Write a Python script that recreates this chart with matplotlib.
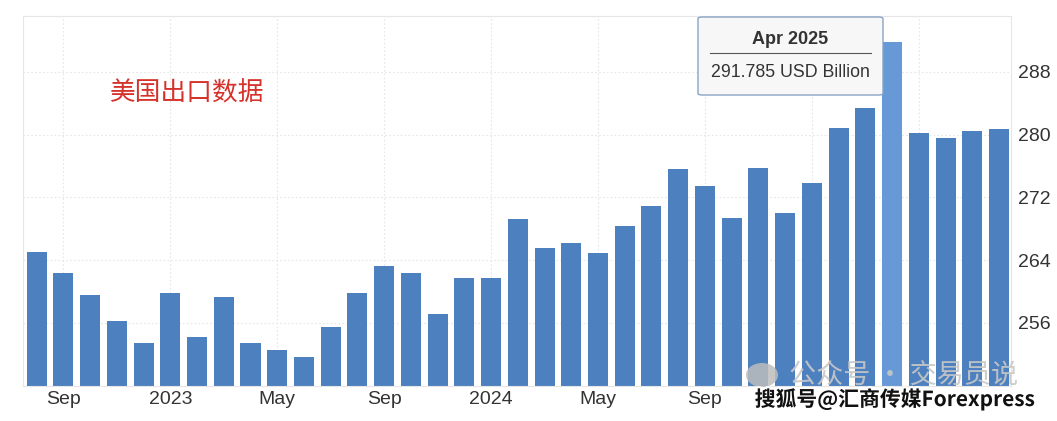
import matplotlib.pyplot as plt
from matplotlib.patches import FancyBboxPatch, Ellipse
import matplotlib.patheffects as pe

plt.rcParams['font.family'] = ['Liberation Sans', 'Noto Sans CJK SC', 'DejaVu Sans']

# 美国出口 (USD Billion), Aug 2022 - Aug 2025
months = ['Aug 2022', 'Sep 2022', 'Oct 2022', 'Nov 2022', 'Dec 2022',
          'Jan 2023', 'Feb 2023', 'Mar 2023', 'Apr 2023', 'May 2023', 'Jun 2023',
          'Jul 2023', 'Aug 2023', 'Sep 2023', 'Oct 2023', 'Nov 2023', 'Dec 2023',
          'Jan 2024', 'Feb 2024', 'Mar 2024', 'Apr 2024', 'May 2024', 'Jun 2024',
          'Jul 2024', 'Aug 2024', 'Sep 2024', 'Oct 2024', 'Nov 2024', 'Dec 2024',
          'Jan 2025', 'Feb 2025', 'Mar 2025', 'Apr 2025', 'May 2025', 'Jun 2025',
          'Jul 2025', 'Aug 2025']
exports = [265.0, 262.4, 259.5, 256.2, 253.5, 259.8, 254.2, 259.3, 253.5, 252.5,
           251.7, 255.5, 259.8, 263.3, 262.4, 257.1, 261.7, 261.7, 269.2, 265.5,
           266.2, 264.9, 268.3, 270.9, 275.6, 273.5, 269.4, 275.7, 270.0, 273.8,
           280.9, 283.4, 291.785, 280.2, 279.6, 280.5, 280.7]

# 2025 / May labels are hidden under the watermark in the source
tick_idx = [1, 5, 9, 13, 17, 21, 25, 29, 33]
tick_lbl = ['Sep', '2023', 'May', 'Sep', '2024', 'May', 'Sep', '', '']
ytick_vals = [256, 264, 272, 280, 288]

hl = months.index('Apr 2025')

fig = plt.figure(figsize=(10.57, 4.21), dpi=100)
ax = fig.add_axes([0.022, 0.0838, 0.9345, 0.878])

colors = ['#4d80bf'] * len(exports)
colors[hl] = '#6799d6'
x = list(range(len(exports)))
ax.bar(x, exports, width=0.75, color=colors, zorder=2)

ax.set_xlim(-0.5, 36.45)
ax.set_ylim(248, 295.1)
ax.set_xticks(tick_idx)
ax.set_xticklabels(tick_lbl)
ax.set_yticks(ytick_vals)
ax.yaxis.tick_right()
ax.tick_params(axis='both', length=0, labelsize=14, colors='#333333')
ax.tick_params(axis='x', pad=4)
ax.tick_params(axis='y', pad=5)
ax.grid(True, color='#e6e6e6', linestyle=(0, (1.5, 2)), linewidth=0.8, zorder=0)
for s in ax.spines.values():
    s.set_color('#e6e6e6')
    s.set_linewidth(0.8)

# title text
fig.text(0.104, 0.778, '美国出口数据', color='#d6312b', fontsize=18.5,
         family=['Noto Sans CJK SC'], va='center', ha='left')

# tooltip
box = FancyBboxPatch((698 / 1057, 1 - 95 / 421), 185 / 1057, 78 / 421,
                     boxstyle='round,pad=0,rounding_size=0.004',
                     transform=fig.transFigure, facecolor='#f7f7f7',
                     edgecolor='#8aa3c4', linewidth=1.0, zorder=5)
fig.add_artist(box)
fig.text(790.5 / 1057, 1 - 40 / 421, 'Apr 2025', fontsize=13, fontweight='bold',
         color='#333333', ha='center', va='center', zorder=6)
fig.add_artist(plt.Line2D([710 / 1057, 871 / 1057], [1 - 53 / 421, 1 - 53 / 421],
                          transform=fig.transFigure, color='#555555', linewidth=0.8, zorder=6))
fig.text(790.5 / 1057, 1 - 72.5 / 421, '291.785 USD Billion', fontsize=12.8,
         color='#333333', ha='center', va='center', zorder=6)

# watermarks
fig.add_artist(Ellipse((762 / 1057, 1 - 375 / 421), 32 / 1057, 24 / 421,
                       transform=fig.transFigure, facecolor='#bdbdbd',
                       edgecolor='none', alpha=0.85, zorder=7))
fig.text(789 / 1057, 1 - 376 / 421, '公众号 · 交易员说', fontsize=19.5, color='#c8c8c8',
         family=['Noto Sans CJK SC', 'DejaVu Sans'], va='center', ha='left', zorder=7, alpha=0.9)
fig.text(0.714, 1 - 399 / 421, '搜狐号@汇商传媒Forexpress', fontsize=15, color='#111111',
         fontweight='bold', family=['Noto Sans CJK SC', 'DejaVu Sans'],
         va='center', ha='left', zorder=8,
         path_effects=[pe.withStroke(linewidth=3, foreground='white')])

fig.savefig('out.png', dpi=100)
